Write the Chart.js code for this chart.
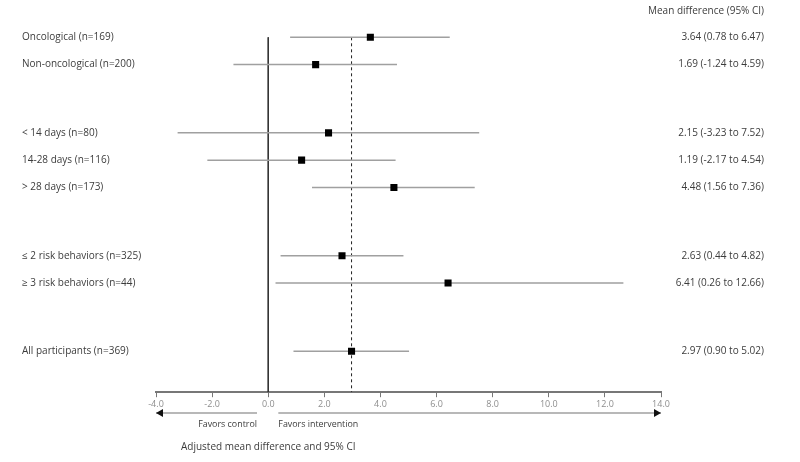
<!DOCTYPE html>
<html>
<head>
<meta charset="utf-8">
<script src="https://cdn.jsdelivr.net/npm/chart.js@4/dist/chart.umd.min.js"></script>
<style>
  html, body { margin: 0; padding: 0; background: #fff; }
  #wrap { width: 800px; height: 462px; position: relative; }
</style>
</head>
<body>
<div id="wrap"><canvas id="forest"></canvas></div>
<script>
// ── forest plot: adjusted mean difference by subgroup ──
const labels  = ['Oncological (n=169)', 'Non-oncological (n=200)',
                 '< 14 days (n=80)', '14-28 days (n=116)', '> 28 days (n=173)',
                 '\u2264 2 risk behaviors (n=325)', '\u2265 3 risk behaviors (n=44)',
                 'All participants (n=369)'];
const rows    = [0, 1, 3.5, 4.5, 5.5, 8, 9, 11.5];
const means   = [3.64, 1.69, 2.15, 1.19, 4.48, 2.63, 6.41, 2.97];
const lower   = [0.78, -1.24, -3.23, -2.17, 1.56, 0.44, 0.26, 0.90];
const upper   = [6.47, 4.59, 7.52, 4.54, 7.36, 4.82, 12.66, 5.02];
const xTicks  = [-4, -2, 0, 2, 4, 6, 8, 10, 12, 14];
const overall = 2.97;

const FONT = "'Open Sans', 'Noto Sans', sans-serif";
const fmt = v => v.toFixed(2);

// CI segments separated by NaN gaps
const ciData = [];
rows.forEach((r, i) => {
  ciData.push({ x: lower[i], y: r }, { x: upper[i], y: r }, { x: NaN, y: NaN });
});

const textPlugin = {
  id: 'forestText',
  afterDraw(chart) {
    const { ctx, scales: { x, y } } = chart;
    ctx.save();
    ctx.font = `10px ${FONT}`;
    ctx.fillStyle = '#3c3c3c';
    ctx.textBaseline = 'middle';
    rows.forEach((r, i) => {
      const py = y.getPixelForValue(r);
      ctx.textAlign = 'left';
      ctx.fillText(labels[i], 22, py);
      ctx.textAlign = 'right';
      ctx.fillText(`${fmt(means[i])} (${fmt(lower[i])} to ${fmt(upper[i])})`, 764, py);
    });
    ctx.textAlign = 'right';
    ctx.fillText('Mean difference (95% CI)', 764, 11);

    // direction arrows under the axis
    const ay = 413;
    const x0 = x.getPixelForValue(0);
    const arrow = (from, to) => {
      const a = x.getPixelForValue(from), b = x.getPixelForValue(to);
      ctx.strokeStyle = '#b8b8b8';
      ctx.lineWidth = 2;
      ctx.beginPath(); ctx.moveTo(a, ay); ctx.lineTo(b, ay); ctx.stroke();
      const dir = b > a ? 1 : -1;
      ctx.fillStyle = '#111';
      ctx.beginPath();
      ctx.moveTo(b, ay);
      ctx.lineTo(b - dir * 7, ay - 4);
      ctx.lineTo(b - dir * 7, ay + 4);
      ctx.closePath(); ctx.fill();
    };
    arrow(-0.4, -4);
    arrow(0.36, 14);

    ctx.fillStyle = '#3c3c3c';
    ctx.font = `8.9px ${FONT}`;
    ctx.textAlign = 'right';
    ctx.fillText('Favors control', x.getPixelForValue(-0.4), 424);
    ctx.textAlign = 'left';
    ctx.fillText('Favors intervention', x.getPixelForValue(0.36), 424);
    ctx.font = `10px ${FONT}`;
    ctx.textAlign = 'center';
    ctx.fillText('Adjusted mean difference and 95% CI', x0, 447);
    ctx.restore();
  }
};

new Chart(document.getElementById('forest').getContext('2d'), {
  type: 'scatter',
  data: {
    datasets: [
      {
        data: means.map((m, i) => ({ x: m, y: rows[i] })),
        pointStyle: 'rect',
        pointRadius: 5,
        backgroundColor: '#000',
        borderColor: '#000',
        borderWidth: 0,
        order: 0,
      },
      {
        data: ciData,
        showLine: true,
        spanGaps: false,
        pointRadius: 0,
        borderColor: '#a0a0a0',
        borderWidth: 1.5,
        order: 1,
      },
      {
        data: [{ x: 0, y: 0 }, { x: 0, y: 13 }],
        showLine: true,
        pointRadius: 0,
        borderColor: '#333',
        borderWidth: 1,
        order: 2,
      },
      {
        data: [{ x: overall, y: 0 }, { x: overall, y: 13 }],
        showLine: true,
        pointRadius: 0,
        borderColor: '#222',
        borderWidth: 1,
        borderDash: [3, 3],
        order: 2,
      },
    ],
  },
  options: {
    responsive: true,
    maintainAspectRatio: false,
    animation: false,
    layout: { padding: { left: 156, right: 139, top: 10, bottom: 50 } },
    plugins: { legend: { display: false }, tooltip: { enabled: false } },
    scales: {
      x: {
        type: 'linear',
        min: -4, max: 14,
        afterBuildTicks: s => { s.ticks = xTicks.map(v => ({ value: v })); },
        ticks: {
          callback: v => v.toFixed(1),
          color: '#8e8e8e',
          font: { family: FONT, size: 9 },
          padding: 2,
          maxRotation: 0,
          autoSkip: false,
        },
        grid: { drawOnChartArea: false, drawTicks: true, tickLength: 5, color: '#777', lineWidth: 1 },
        border: { color: '#777', width: 2 },
      },
      y: {
        display: false,
        reverse: true,
        min: -1, max: 13,
      },
    },
  },
  plugins: [textPlugin],
});
</script>
</body>
</html>
